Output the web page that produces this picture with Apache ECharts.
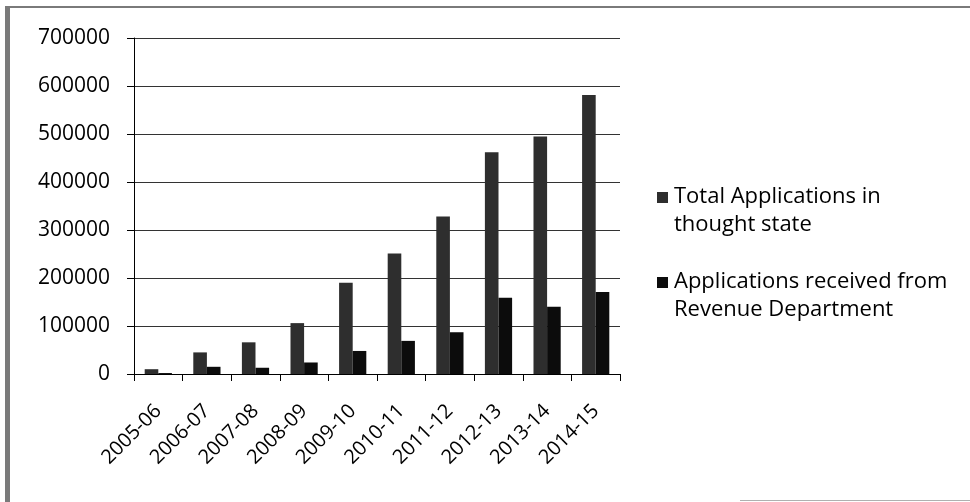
<!DOCTYPE html>
<html>
<head>
<meta charset="utf-8">
<script src="https://cdn.jsdelivr.net/npm/echarts@6/dist/echarts.min.js"></script>
<style>
  html, body { margin: 0; padding: 0; background: #fff; }
  #chart { width: 970px; height: 502px; }
</style>
</head>
<body>
<div id="chart"></div>
<script>
// data
const years = ['2005-06', '2006-07', '2007-08', '2008-09', '2009-10',
  '2010-11', '2011-12', '2012-13', '2013-14', '2014-15'];
const totalApps = [10000, 45000, 66000, 106000, 190000, 251000, 328000, 462000, 495000, 581000];
const revenueApps = [2000, 15000, 13000, 24000, 48000, 69000, 87000, 159000, 140000, 171000];
const yTicks = [0, 100000, 200000, 300000, 400000, 500000, 600000, 700000];

// wrapped legend labels, like the original
const legendText = {
  'Total Applications in thought state': 'Total Applications in\nthought state',
  'Applications received from Revenue Department': 'Applications received from\nRevenue Department',
};

const chart = echarts.init(document.getElementById('chart'));

// square at the first text line, box as tall as the two lines
const legendIcon = 'path://M0,9L11,9L11,20L0,20Z M0,0 M11,56';

const option = {
  animation: false,
  backgroundColor: '#fff',
  textStyle: { fontFamily: 'Open Sans' },
  grid: { left: 134, right: 350, top: 38, bottom: 128, containLabel: false },
  legend: {
    orient: 'vertical',
    left: 652,
    top: 178,
    itemWidth: 11,
    itemHeight: 56,
    itemGap: 29,
    icon: legendIcon,
    formatter: name => legendText[name] || name,
    textStyle: { fontSize: 22, lineHeight: 28, color: '#000', fontFamily: 'Open Sans', padding: [0, 0, 0, 1] },
  },
  xAxis: {
    type: 'category',
    data: years,
    axisLine: { lineStyle: { color: '#000', width: 1 } },
    axisTick: { show: true, length: 7, lineStyle: { color: '#000' } },
    axisLabel: { rotate: 45, fontSize: 20, color: '#000', margin: 34, fontFamily: 'Open Sans' },
  },
  yAxis: {
    type: 'value',
    min: 0,
    max: 700000,
    interval: 100000,
    axisLine: { show: true, lineStyle: { color: '#000' } },
    axisTick: { show: true, length: 7, lineStyle: { color: '#000' } },
    splitLine: { lineStyle: { color: '#333', width: 1 } },
    axisLabel: {
      fontSize: 21, color: '#000', margin: 24, fontFamily: 'Open Sans',
      formatter: v => (yTicks.indexOf(v) >= 0 ? String(v) : ''),
    },
  },
  series: [
    {
      name: 'Total Applications in thought state',
      type: 'bar',
      data: totalApps,
      barGap: '0%',
      barCategoryGap: '44%',
      itemStyle: { color: '#2e2e2e' },
    },
    {
      name: 'Applications received from Revenue Department',
      type: 'bar',
      data: revenueApps,
      itemStyle: { color: '#0c0c0c' },
    },
  ],
  graphic: [
    { type: 'rect', left: 5, top: 7, shape: { width: 5, height: 495 }, style: { fill: '#7a7a7a' } },
    { type: 'rect', left: 5, top: 6, shape: { width: 965, height: 2 }, style: { fill: '#7a7a7a' } },
    { type: 'rect', left: 740, top: 500, shape: { width: 230, height: 1 }, style: { fill: '#b0b0b0' } },
  ],
};

chart.setOption(option);
window.addEventListener('resize', () => chart.resize());
</script>
</body>
</html>
